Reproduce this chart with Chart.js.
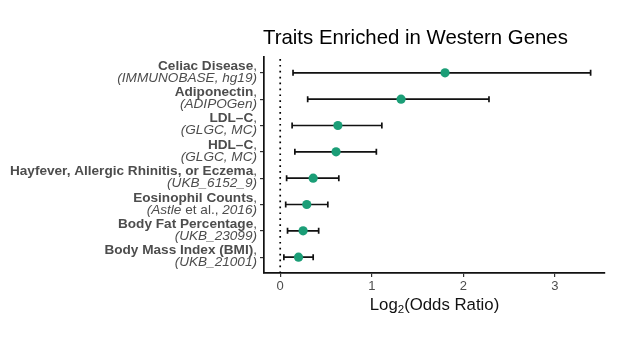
<!DOCTYPE html>
<html>
<head>
<meta charset="utf-8">
<script src="https://cdn.jsdelivr.net/npm/chart.js@4.4.0/dist/chart.umd.min.js"></script>
<style>
  html, body { margin: 0; padding: 0; background: #fff; }
  #wrap { width: 617px; height: 347px; position: relative; }
</style>
</head>
<body>
<div id="wrap"><canvas id="forestChart"></canvas></div>
<script>
// traits, top to bottom
const traitNames = ['Celiac Disease', 'Adiponectin', 'LDL\u2013C', 'HDL\u2013C',
    'Hayfever, Allergic Rhinitis, or Eczema', 'Eosinophil Counts', 'Body Fat Percentage',
    'Body Mass Index (BMI)'];
// second line of each label, segments: [text, italic]
const traitSources = [
    [['(IMMUNOBASE, hg19)', true]],
    [['(ADIPOGen)', true]],
    [['(GLGC, MC)', true]],
    [['(GLGC, MC)', true]],
    [['(UKB_6152_9)', true]],
    [['(Astle', true], [' et al., ', false], ['2016)', true]],
    [['(UKB_23099)', true]],
    [['(UKB_21001)', true]]
];
const log2OR = [1.80, 1.32, 0.63, 0.61, 0.36, 0.29, 0.25, 0.20];
const ciLow  = [0.14, 0.30, 0.13, 0.16, 0.07, 0.06, 0.08, 0.04];
const ciHigh = [3.39, 2.28, 1.11, 1.05, 0.64, 0.52, 0.42, 0.36];
const xTicks = [0, 1, 2, 3];

const textGrey = '#4d4d4d';
const dotColor = '#1b9e77';
const fontFam = '"Liberation Sans", Arial, Helvetica, sans-serif';
const labelSize = 13.6;

document.addEventListener('DOMContentLoaded', () => {
    const ctx = document.getElementById('forestChart').getContext('2d');

    // dotted zero line, error bars
    const errorBars = {
        id: 'errorBars',
        beforeDatasetsDraw(chart) {
            const c = chart.ctx, xs = chart.scales.x, ys = chart.scales.y;
            const area = chart.chartArea;
            c.save();
            // zero reference line
            const x0 = xs.getPixelForValue(0);
            c.strokeStyle = '#000';
            c.lineWidth = 1.7;
            c.setLineDash([1.7, 4.2]);
            c.beginPath();
            c.moveTo(x0, area.top + 2);
            c.lineTo(x0, area.bottom);
            c.stroke();
            c.setLineDash([]);
            // bars
            c.strokeStyle = '#111';
            c.lineWidth = 1.7;
            ciLow.forEach((lo, i) => {
                const y = ys.getPixelForValue(i);
                const a = xs.getPixelForValue(lo), b = xs.getPixelForValue(ciHigh[i]);
                c.beginPath();
                c.moveTo(a, y); c.lineTo(b, y);
                c.moveTo(a, y - 3); c.lineTo(a, y + 3);
                c.moveTo(b, y - 3); c.lineTo(b, y + 3);
                c.stroke();
            });
            c.restore();
        }
    };

    // two-line labels with mixed bold / italic, title, axis title
    const labelsPlugin = {
        id: 'labelsPlugin',
        afterDraw(chart) {
            const c = chart.ctx, ys = chart.scales.y;
            const right = chart.chartArea.left - 7;
            c.save();
            c.fillStyle = textGrey;
            c.textBaseline = 'alphabetic';
            c.textAlign = 'right';
            traitNames.forEach((name, i) => {
                const y = ys.getPixelForValue(i);
                // first line: bold name + plain comma
                c.font = labelSize + 'px ' + fontFam;
                const wComma = c.measureText(',').width;
                c.fillText(',', right, y - 3);
                c.font = 'bold ' + labelSize + 'px ' + fontFam;
                c.fillText(name, right - wComma, y - 3);
                // second line: source segments
                let xr = right;
                const segs = traitSources[i];
                for (let k = segs.length - 1; k >= 0; k--) {
                    c.font = (segs[k][1] ? 'italic ' : '') + labelSize + 'px ' + fontFam;
                    c.fillText(segs[k][0], xr, y + 9);
                    xr -= c.measureText(segs[k][0]).width;
                }
            });
            // title
            c.fillStyle = '#000';
            c.textAlign = 'left';
            c.font = '20.4px ' + fontFam;
            c.fillText('Traits Enriched in Western Genes', 263, 44);
            // x axis title with subscript
            const cx = (chart.chartArea.left + chart.chartArea.right) / 2;
            c.font = '16.8px ' + fontFam;
            const p1 = 'Log', p3 = '(Odds Ratio)';
            const w1 = c.measureText(p1).width, w3 = c.measureText(p3).width;
            c.font = '11.5px ' + fontFam;
            const w2 = c.measureText('2').width;
            let x = cx - (w1 + w2 + w3) / 2;
            const by = 310;
            c.fillStyle = '#111';
            c.font = '16.8px ' + fontFam;
            c.fillText(p1, x, by); x += w1;
            c.font = '11.5px ' + fontFam;
            c.fillText('2', x, by + 3); x += w2;
            c.font = '16.8px ' + fontFam;
            c.fillText(p3, x, by);
            c.restore();
        }
    };

    new Chart(ctx, {
        type: 'scatter',
        data: {
            datasets: [{
                label: 'log2 OR',
                data: log2OR.map((v, i) => ({ x: v, y: i })),
                backgroundColor: dotColor,
                borderColor: dotColor,
                pointRadius: 4.6,
                pointHoverRadius: 4.6,
                borderWidth: 0
            }]
        },
        options: {
            responsive: true,
            maintainAspectRatio: false,
            animation: false,
            layout: { padding: { top: 57, right: 12, bottom: 0, left: 0 } },
            scales: {
                x: {
                    type: 'linear',
                    min: -0.177,
                    max: 3.547,
                    afterBuildTicks: (axis) => { axis.ticks = xTicks.map(v => ({ value: v })); },
                    afterFit: (axis) => { axis.height = 74; },
                    border: { display: true, color: '#111', width: 1.7 },
                    grid: { drawOnChartArea: false, drawTicks: true, tickLength: 4, color: '#333', lineWidth: 1.2 },
                    ticks: {
                        color: textGrey,
                        padding: 2,
                        font: { family: fontFam, size: 13 }
                    }
                },
                y: {
                    type: 'linear',
                    reverse: true,
                    min: -0.6,
                    max: 7.6,
                    afterBuildTicks: (axis) => { axis.ticks = traitNames.map((n, i) => ({ value: i })); },
                    afterFit: (axis) => { axis.width = 264; },
                    border: { display: true, color: '#111', width: 1.7 },
                    grid: { drawOnChartArea: false, drawTicks: true, tickLength: 4, color: '#333', lineWidth: 1.2 },
                    ticks: { callback: () => '' }
                }
            },
            plugins: {
                legend: { display: false },
                tooltip: { enabled: false }
            }
        },
        plugins: [errorBars, labelsPlugin]
    });
});
</script>
</body>
</html>
